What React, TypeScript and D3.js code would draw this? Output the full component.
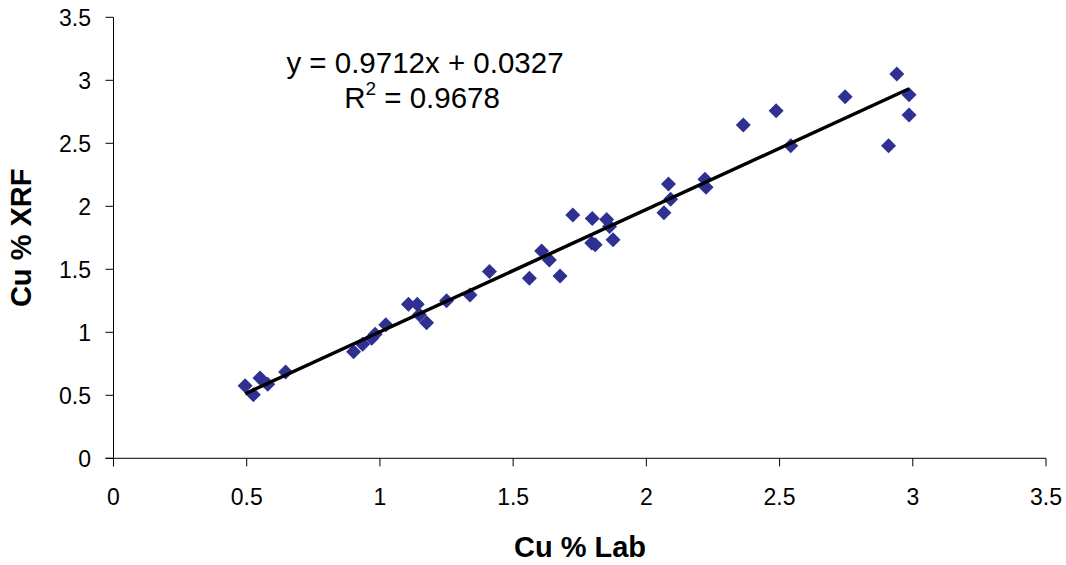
import React from "react";
import * as d3 from "d3";

const labX = [0.494,0.525,0.55,0.579,0.646,0.901,0.935,0.969,0.982,1.022,1.107,1.14,1.148,1.175,1.25,1.338,1.411,1.561,1.607,1.636,1.676,1.724,1.797,1.795,1.808,1.851,1.862,1.875,2.066,2.083,2.091,2.22,2.224,2.364,2.487,2.542,2.746,2.909,2.94,2.986,2.986];
const xrfY = [0.575,0.505,0.638,0.588,0.685,0.846,0.905,0.952,0.985,1.06,1.222,1.222,1.14,1.075,1.25,1.296,1.482,1.429,1.646,1.574,1.447,1.931,1.903,1.708,1.695,1.895,1.84,1.735,1.949,2.177,2.055,2.214,2.151,2.645,2.759,2.481,2.87,2.481,3.05,2.885,2.725];
const xTicks = [0, 0.5, 1, 1.5, 2, 2.5, 3, 3.5];
const yTicks = [0, 0.5, 1, 1.5, 2, 2.5, 3, 3.5];
const slope = 0.9712;
const intercept = 0.0327;
const r2 = "0.9678";

export default function App() {
  const W = 1066, H = 565;
  const x = d3.scaleLinear().domain([0, 3.5]).range([113.5, 1046]);
  const y = d3.scaleLinear().domain([0, 3.5]).range([458.3, 17.3]);
  const pts = labX.map((v, i) => [v, xrfY[i]] as [number, number]);
  const xmin = d3.min(labX)!, xmax = d3.max(labX)!;
  const line = d3.line<number>().x(d => x(d)).y(d => y(slope * d + intercept));
  const diamond = (cx: number, cy: number, r = 7.5) =>
    `M${cx},${cy - r}L${cx + r},${cy}L${cx},${cy + r}L${cx - r},${cy}Z`;
  const font = "Liberation Sans, Arial, sans-serif";
  return (
    <svg width={W} height={H} style={{ position: "absolute", left: 0, top: 0 }} fontFamily={font}>
      <rect width={W} height={H} fill="#fff" />
      <line x1={x(0)} x2={x(0)} y1={y(3.5)} y2={y(0) + 8} stroke="#000" strokeWidth={1} />
      <line x1={x(0) - 8} x2={x(3.5)} y1={y(0)} y2={y(0)} stroke="#000" strokeWidth={1} />
      {yTicks.map(t => (
        <g key={"y" + t}>
          <line x1={x(0) - 8} x2={x(0)} y1={y(t)} y2={y(t)} stroke="#000" />
          <text x={91} y={y(t)} dy="0.36em" textAnchor="end" fontSize={23}>{t}</text>
        </g>
      ))}
      {xTicks.map(t => (
        <g key={"x" + t}>
          <line x1={x(t)} x2={x(t)} y1={y(0)} y2={y(0) + 8} stroke="#000" />
          <text x={x(t)} y={505} textAnchor="middle" fontSize={23}>{t}</text>
        </g>
      ))}
      {pts.map((p, i) => (
        <path key={i} d={diamond(x(p[0]), y(p[1]))} fill="#2e3192" />
      ))}
      <path d={line([xmin, xmax]) || ""} fill="none" stroke="#000" strokeWidth={3.5} />
      <text x={425} y={73} textAnchor="middle" fontSize={29.5}>{`y = ${slope}x + ${intercept}`}</text>
      <text x={422} y={108} textAnchor="middle" fontSize={29.5}>
        R<tspan dy={-13} fontSize={19}>2</tspan><tspan dy={13}>{` = ${r2}`}</tspan>
      </text>
      <text x={580} y={557} textAnchor="middle" fontSize={29} fontWeight="bold">Cu % Lab</text>
      <text transform={`translate(31,${(y(0) + y(3.5)) / 2}) rotate(-90)`} textAnchor="middle" fontSize={29} fontWeight="bold">Cu % XRF</text>
    </svg>
  );
}
